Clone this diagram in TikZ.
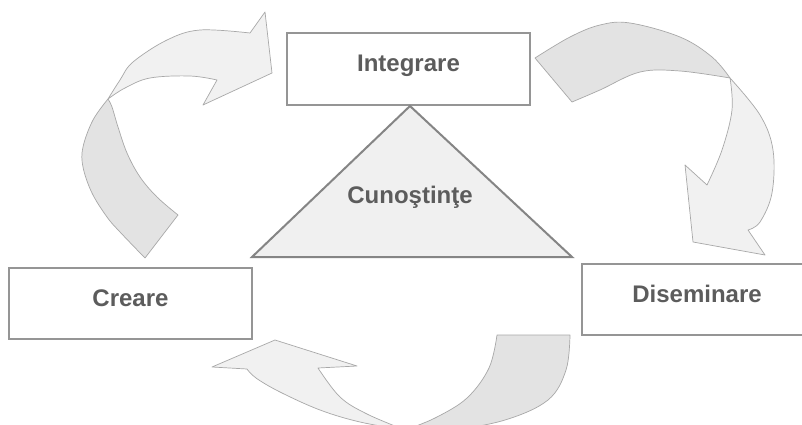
\documentclass[tikz,border=0pt]{standalone}
\usepackage{fontspec}
\setmainfont{Liberation Sans}
\definecolor{txtgray}{HTML}{5C5C5C}
\definecolor{boxline}{HTML}{959595}
\definecolor{triline}{HTML}{858585}
\definecolor{trifill}{HTML}{F0F0F0}
\definecolor{arrdark}{HTML}{E3E3E3}
\definecolor{arrlight}{HTML}{F1F1F1}
\definecolor{arrline}{HTML}{A8A8A8}
\tikzset{
  labelbox/.style={draw=boxline, line width=1.4pt, fill=white, rectangle, inner sep=0pt,
    text height=12pt, text depth=7pt, text=txtgray,
    font=\fontsize{24}{28}\selectfont\bfseries},
  darkpart/.style={fill=arrdark, draw=arrline, line width=0.7pt, line join=round},
  lightpart/.style={fill=arrlight, draw=arrline, line width=0.7pt, line join=round},
  tritext/.style={text=txtgray, font=\fontsize{24}{28}\selectfont\bfseries, inner sep=0pt, anchor=base}
}
\begin{document}
\begin{tikzpicture}[x=1pt,y=-1pt]
\useasboundingbox (0,0) rectangle (802,425);
\fill[white] (0,0) rectangle (802,425);
\begin{scope}
\clip (0,0) rectangle (802,425);

% ---- top-left twisted arrow (Creare -> Integrare)
\path[darkpart] (108,99) -- plot[smooth, tension=0.6] coordinates {(108,99) (93,120) (83,147) (83,167) (92,193) (107,217) (120,232) (145,258)}
  -- (178,215) -- plot[smooth, tension=0.6] coordinates {(178,215) (157,197) (140,177) (127,153) (118,127) (112,107) (108,99)} -- cycle;
\path[lightpart] (108,99) -- plot[smooth, tension=0.6] coordinates {(108,99) (120,80) (133,62) (167,40) (200,30) (250,33)}
  -- (265,12) -- (272,73) -- (203,105) -- (217,80)
  -- plot[smooth, tension=0.6] coordinates {(217,80) (190,76) (150,78) (125,88) (108,99)} -- cycle;

% ---- top-right twisted arrow (Integrare -> Diseminare)
\path[darkpart] (535,58) -- plot[smooth, tension=0.6] coordinates {(535,58) (570,37) (600,25) (630,23) (680,37) (712,57) (730,78)}
  -- plot[smooth, tension=0.6] coordinates {(730,78) (680,71) (640,72) (600,90) (572,102)} -- cycle;
\path[lightpart] (730,78) -- plot[smooth, tension=0.6] coordinates {(730,78) (760,115) (773,150) (772,193) (760,222) (748,230)}
  -- (765,255) -- (693,242) -- (685,165) -- (707,185)
  -- plot[smooth, tension=0.6] coordinates {(707,185) (722,150) (732,110) (730,78)} -- cycle;

% ---- bottom twisted arrow (Diseminare -> Creare)
\path[darkpart] (497,335) -- (570,335) -- plot[smooth, tension=0.6] coordinates {(570,335) (566,370) (548,400) (505,420) (450,430) (405,430)}
  -- plot[smooth, tension=0.6] coordinates {(405,430) (435,418) (467,398) (489,368) (497,335)} -- cycle;
\path[lightpart] (405,430) -- plot[smooth, tension=0.6] coordinates {(405,430) (360,422) (320,410) (280,392) (256,378) (247,369)}
  -- (212,367) -- (275,340) -- (357,366) -- (318,368)
  -- plot[smooth, tension=0.6] coordinates {(318,368) (340,397) (367,414) (405,430)} -- cycle;

% ---- boxes
\node[labelbox, minimum width=243pt, minimum height=72pt] (integ) at (408.5,69) {Integrare};
\node[labelbox, minimum width=243pt, minimum height=71pt] (creare) at (130.5,303.5) {Creare};
\node[labelbox, minimum width=230pt, minimum height=71pt] (disem) at (697,299.5) {Diseminare};

% ---- triangle
\coordinate (apex) at (410,106);
\coordinate (bl) at (252,257);
\coordinate (br) at (572,257);
\filldraw[fill=trifill, draw=triline, line width=2pt, line join=miter] (apex) -- (br) -- (bl) -- cycle;
\node[tritext] (cunos) at (410,203) {Cunoştinţe};
\end{scope}
\end{tikzpicture}
\end{document}
